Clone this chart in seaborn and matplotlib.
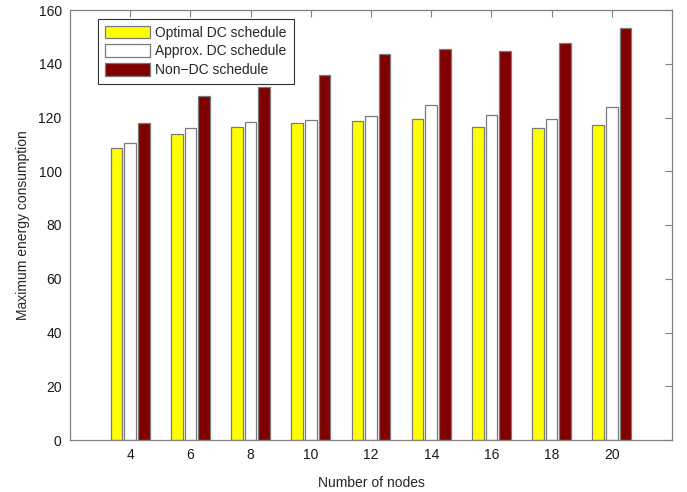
import matplotlib
matplotlib.use("Agg")
import matplotlib.pyplot as plt
import seaborn as sns
import pandas as pd

# Number of nodes in the network
nodes = [4, 6, 8, 10, 12, 14, 16, 18, 20]

# Maximum energy consumption per schedule type
optimal_dc = [108.6, 114.0, 116.6, 118.0, 118.7, 119.3, 116.5, 116.2, 117.1]
approx_dc = [110.6, 116.0, 118.4, 119.2, 120.4, 124.7, 121.0, 119.6, 123.9]
non_dc = [118.1, 128.0, 131.5, 135.9, 143.8, 145.4, 144.9, 147.8, 153.4]

series_names = ["Optimal DC schedule", "Approx. DC schedule", "Non\u2212DC schedule"]
series_colors = ["#ffff00", "#ffffff", "#800000"]

yticks = [0, 20, 40, 60, 80, 100, 120, 140, 160]

rows = []
for name, vals in zip(series_names, [optimal_dc, approx_dc, non_dc]):
    for n, v in zip(nodes, vals):
        rows.append({"nodes": n, "energy": v, "schedule": name})
df = pd.DataFrame(rows)

sns.set_style("white")
plt.rcParams["font.family"] = ["Liberation Sans", "DejaVu Sans"]
plt.rcParams["font.size"] = 10

fig = plt.figure(figsize=(6.87, 4.92), dpi=100)
ax = fig.add_axes([70 / 687, 52 / 492, 602 / 687, 430 / 492])

sns.barplot(
    data=df, x="nodes", y="energy", hue="schedule",
    hue_order=series_names, palette=series_colors, saturation=1,
    native_scale=True, width=0.675, gap=0.15,
    edgecolor="#7a7a7a", linewidth=0.9, ax=ax, errorbar=None,
)

ax.set_xlim(2, 22)
ax.set_ylim(0, 160)
ax.set_xticks(nodes)
ax.set_xticklabels([str(n) for n in nodes])
ax.set_yticks(yticks)
ax.set_yticklabels([str(t) for t in yticks])

ax.set_xlabel("Number of nodes", fontsize=10, labelpad=10)
ax.set_ylabel("Maximum energy consumption", fontsize=10, labelpad=6)

for sp in ax.spines.values():
    sp.set_visible(True)
    sp.set_color("#808080")
    sp.set_linewidth(0.9)

ax.tick_params(axis="both", which="both", direction="in", length=5,
               color="#808080", width=0.8, top=True, right=True,
               labelsize=10, labelcolor="#1a1a1a", pad=6)

handles, labels = ax.get_legend_handles_labels()
leg = ax.legend(
    handles, labels, loc="upper left", bbox_to_anchor=(0.046, 0.98),
    frameon=True, fancybox=False, shadow=False, framealpha=1,
    edgecolor="#333333", fontsize=10, handlelength=3.3, handleheight=1.0,
    borderpad=0.5, labelspacing=0.35, handletextpad=0.35, borderaxespad=0,
)
leg.get_frame().set_linewidth(0.8)

fig.savefig("out.png", dpi=100)
